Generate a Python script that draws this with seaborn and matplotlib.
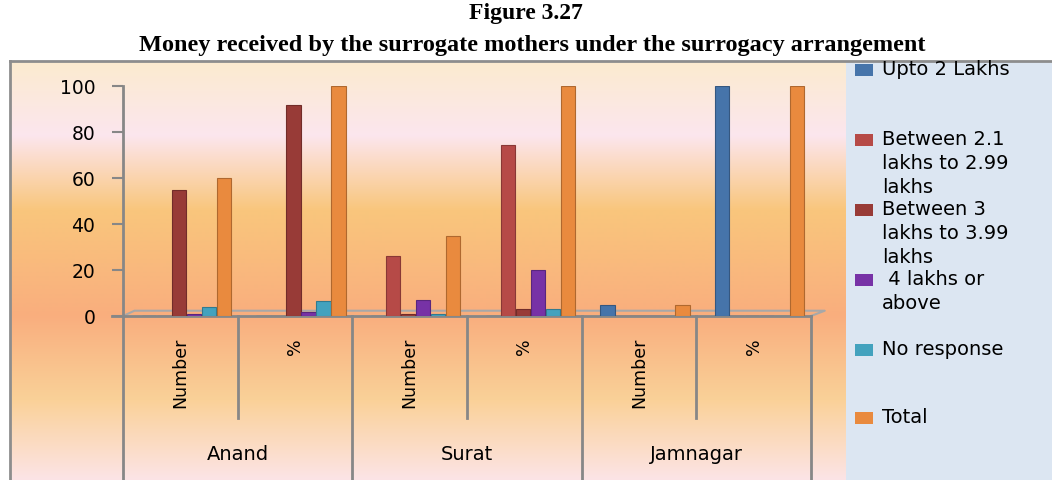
import numpy as np
import pandas as pd
import matplotlib
matplotlib.use("Agg")
import matplotlib.pyplot as plt
import seaborn as sns
from matplotlib.patches import Rectangle
from matplotlib.lines import Line2D
import matplotlib.colors as mcolors

# data
cities = ["Anand", "Surat", "Jamnagar"]
measures = ["Number", "%"]
series = ["Upto 2 Lakhs", "Between 2.1 lakhs to 2.99 lakhs",
          "Between 3 lakhs to 3.99 lakhs", "4 lakhs or above",
          "No response", "Total"]
legend_labels = ["Upto 2 Lakhs", "Between 2.1\nlakhs to 2.99\nlakhs",
                 "Between 3\nlakhs to 3.99\nlakhs", " 4 lakhs or\nabove",
                 "No response", "Total"]
colors = ["#4674AA", "#B64A47", "#983B37", "#7732A6", "#43A2BE", "#E98A3E"]

# one value per category: Anand No., Anand %, Surat No., Surat %, Jamnagar No., Jamnagar %
upto_2 = [0, 0, 0, 0, 5, 100]
between_21 = [0, 0, 26, 74.29, 0, 0]
between_3 = [55, 91.67, 1, 2.86, 0, 0]
above_4 = [1, 1.67, 7, 20.0, 0, 0]
no_response = [4, 6.67, 1, 2.86, 0, 0]
total = [60, 100, 35, 100, 5, 100]

cats = [f"{c}|{m}" for c in cities for m in measures]
rows = []
for name, vals in zip(series, [upto_2, between_21, between_3, above_4, no_response, total]):
    for cat, v in zip(cats, vals):
        rows.append({"cat": cat, "series": name, "value": v})
df = pd.DataFrame(rows)

W, H = 1052, 480
fig = plt.figure(figsize=(W / 100, H / 100), dpi=100)
fig.patch.set_facecolor("white")

def fx(px):
    return px / W

def fy(py):
    return 1 - py / H

# chart background gradient
stops_y = np.array([61, 135, 210, 316, 400, 480])
stops_c = np.array([mcolors.to_rgb(c) for c in
                    ["#FBEBCF", "#FCE6EE", "#F9C67C", "#F9AE7E", "#FAD198", "#FCE4E6"]])
ys = np.arange(61, 481)
grad = np.stack([np.interp(ys, stops_y, stops_c[:, k]) for k in range(3)], axis=-1)
bg = fig.add_axes([fx(10), 0, fx(846 - 10), (480 - 61) / H], zorder=-2)
bg.imshow(grad[:, None, :], aspect="auto", extent=[0, 1, 0, 1])
bg.axis("off")

# legend panel
fig.patches.append(Rectangle((fx(846), 0), fx(W - 846), (480 - 61) / H,
                             transform=fig.transFigure, facecolor="#DCE6F2",
                             edgecolor="none", zorder=-1))
# outer frame
fig.lines.append(Line2D([fx(10), 1], [fy(61), fy(61)], transform=fig.transFigure,
                        color="#8D8D8D", lw=2))
fig.lines.append(Line2D([fx(10), fx(10)], [0, fy(61)], transform=fig.transFigure,
                        color="#8D8D8D", lw=2))

ax = fig.add_axes([fx(123), fy(316), fx(811 - 123), (316 - 86) / H])
ax.set_facecolor("none")

sns.barplot(data=df, x="cat", y="value", hue="series", order=cats,
            hue_order=series, palette=colors, width=0.785, gap=0.05,
            saturation=1, legend=False, ax=ax, zorder=3)

for p in ax.patches:
    fc = np.array(mcolors.to_rgb(p.get_facecolor()))
    p.set_edgecolor(fc * 0.75)
    p.set_linewidth(0.8)
    p.set_x(p.get_x() + 0.052)

ax.set_xlim(-0.5, 5.5)
ax.set_ylim(0, 100)
ax.set_yticks(range(0, 101, 20))
ax.set_xticks([])
ax.set_xlabel("")
ax.set_ylabel("")
for s in ["top", "right"]:
    ax.spines[s].set_visible(False)
for s in ["left", "bottom"]:
    ax.spines[s].set_color("#878787")
    ax.spines[s].set_linewidth(2)
ax.tick_params(axis="y", length=8, width=1.5, color="#878787", pad=12,
               labelsize=13.5, labelcolor="black")

tr = ax.get_xaxis_transform()
# floor of the 3d box
ax.plot([-0.5, -0.4, 5.62, 5.5], [0, 2.3, 2.3, 0], color="#A8A8A8", lw=1.5,
        zorder=1, clip_on=False)
# extend x axis line left to the tick end
ax.plot([-0.5 - 11 / 114.7, -0.5], [0, 0], color="#878787", lw=2,
        transform=tr, clip_on=False)

# two level category axis
for x0 in [-0.5, 1.5, 3.5, 5.5]:
    ax.plot([x0, x0], [0, -0.72], color="#878787", lw=2, transform=tr, clip_on=False)
for x0 in [0.5, 2.5, 4.5]:
    ax.plot([x0, x0], [0, -0.443], color="#878787", lw=2, transform=tr, clip_on=False)
for i, cat in enumerate(cats):
    ax.text(i, -0.096, cat.split("|")[1], rotation=90, ha="center", va="top",
            fontsize=12.5, transform=tr)
for j, city in enumerate(cities):
    ax.text(2 * j + 0.5, -0.6, city, ha="center", va="center", fontsize=14,
            transform=tr)

# legend
first_line_y = [70, 140, 210, 280, 350, 418]
for lab, col, yy in zip(legend_labels, colors, first_line_y):
    fig.patches.append(Rectangle((fx(855), fy(yy + 6)), fx(18), 12 / H,
                                 transform=fig.transFigure, facecolor=col,
                                 edgecolor="none"))
    fig.text(fx(882), fy(yy - 10), lab, ha="left", va="top", fontsize=14,
             linespacing=1.32)

fig.text(fx(526), fy(13), "Figure 3.27", ha="center", va="center", fontsize=17,
         fontweight="bold", family="Liberation Serif")
fig.text(fx(532), fy(45), "Money received by the surrogate mothers under the surrogacy arrangement",
         ha="center", va="center", fontsize=17.5, fontweight="bold",
         family="Liberation Serif")

fig.savefig("out.png", dpi=100)
